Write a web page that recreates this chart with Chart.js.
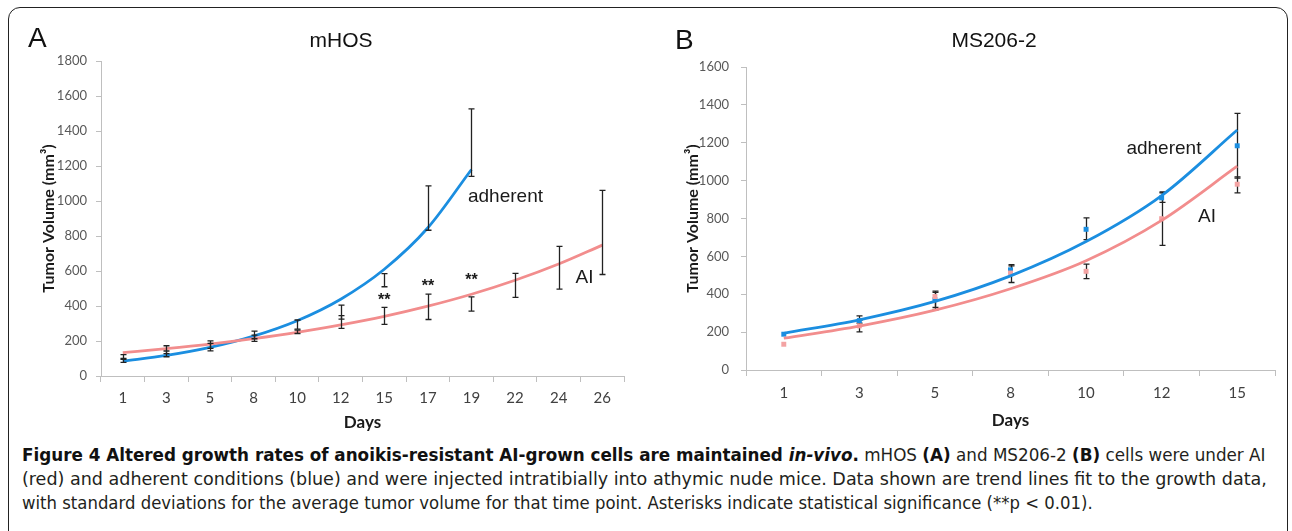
<!DOCTYPE html>
<html><head><meta charset="utf-8">
<script src="https://cdn.jsdelivr.net/npm/chart.js@4.4.1/dist/chart.umd.min.js"></script>
<style>
html,body{margin:0;padding:0;background:#fff;}
#wrap{position:relative;width:1292px;height:531px;overflow:hidden;background:#fff;}
#frame{position:absolute;left:8px;top:7px;width:1280px;height:540px;border:1.6px solid #222;border-radius:12px;box-sizing:border-box;}
.cv{position:absolute;top:0;}
.lbl{position:absolute;font-family:"Liberation Sans",Arial,sans-serif;color:#111;white-space:nowrap;line-height:1;}
.cap{position:absolute;left:22px;font-family:"Liberation Sans Narrow","DejaVu Sans Condensed","Liberation Sans",sans-serif;font-size:18px;color:#231f20;white-space:nowrap;transform-origin:0 50%;line-height:20px;}
.cap b{color:#111;}
</style>
</head><body>
<div id="wrap">
  <div id="frame"></div>
  <div class="cv" style="left:0;width:650px;height:440px;"><canvas id="cA" width="650" height="440"></canvas></div>
  <div class="cv" style="left:650px;width:642px;height:440px;"><canvas id="cB" width="642" height="440"></canvas></div>
  <div class="lbl" style="left:28px;top:24px;font-size:28px;">A</div>
  <div class="lbl" style="left:241px;width:200px;text-align:center;top:29px;font-size:21px;">mHOS</div>
  <div class="lbl" style="left:675px;top:26px;font-size:28px;">B</div>
  <div class="lbl" style="left:894px;width:200px;text-align:center;top:29px;font-size:21px;">MS206-2</div>
  <div class="cap" id="l1" data-w="1243" style="top:445px;"><b>Figure 4 Altered growth rates of anoikis-resistant AI-grown cells are maintained <i>in-vivo</i>.</b> mHOS <b>(A)</b> and MS206-2 <b>(B)</b> cells were under AI</div>
  <div class="cap" id="l2" data-w="1245" style="top:469px;">(red) and adherent conditions (blue) and were injected intratibially into athymic nude mice. Data shown are trend lines fit to the growth data,</div>
  <div class="cap" id="l3" data-w="1071" style="top:493px;">with standard deviations for the average tumor volume for that time point. Asterisks indicate statistical significance (**p &lt; 0.01).</div>
</div>
<script>
// ---------- Panel A (mHOS) ----------
const daysA = ['1','3','5','8','10','12','15','17','19','22','24','26'];
const adherentTrendA = [85,118,164,228,316,439,610,847,1180,null,null,null];
const aiTrendA = [133,156,182,213,249,292,341,399,467,547,640,748];
const adherentLowA  = [78,110,144,198,268,325,510,833,1141,null,null,null];
const adherentHighA = [100,143,186,234,320,405,585,1086,1527,null,null,null];
const aiLowA  = [95,128,158,213,243,272,295,323,371,449,496,580];
const aiHighA = [122,173,201,257,262,345,392,468,452,586,741,1061];
const yTicksA = {min:0, max:1800, step:200};

// ---------- Panel B (MS206-2) ----------
const daysB = ['1','3','5','8','10','12','15'];
const adherentTrendB = [194,265,362,497,678,921,1267];
const aiTrendB = [168,232,316,429,577,790,1076];
const adherentMeanB = [189,261,371,529,743,909,1184];
const aiMeanB = [136,233,388,512,521,799,981];
const adherentLowB  = [null,248,330,505,688,885,1013];
const adherentHighB = [null,286,410,556,803,935,1355];
const aiLowB  = [null,201,318,462,482,658,935];
const aiHighB = [null,262,416,550,559,940,1020];
const yTicksB = {min:0, max:1600, step:200};

const BLUE = '#1b8ee0';
const RED = '#f28d8d';
const REDPT = '#f3a3a3';

const errorBars = {
  id:'errorBars',
  draw(chart, opts){
    const {ctx, scales:{x,y}} = chart;
    ctx.save();
    ctx.strokeStyle = opts.color || '#222';
    ctx.lineWidth = opts.width || 1.2;
    const cap = opts.cap || 3;
    (opts.sets||[]).forEach(set=>{
      set.low.forEach((lo,i)=>{
        const hi = set.high[i];
        if(lo==null||hi==null) return;
        const px = Math.round(x.getPixelForValue(i))+0.5;
        const p1 = y.getPixelForValue(lo), p2 = y.getPixelForValue(hi);
        ctx.beginPath();
        ctx.moveTo(px,p1); ctx.lineTo(px,p2);
        ctx.moveTo(px-cap,p1); ctx.lineTo(px+cap,p1);
        ctx.moveTo(px-cap,p2); ctx.lineTo(px+cap,p2);
        ctx.stroke();
      });
    });
    ctx.restore();
  },
  beforeDatasetsDraw(chart,args,opts){ if(opts.under) this.draw(chart,opts); },
  afterDatasetsDraw(chart,args,opts){ if(!opts.under) this.draw(chart,opts); }
};

const notes = {
  id:'notes',
  afterDraw(chart,args,opts){
    const {ctx, scales:{x,y}} = chart;
    ctx.save();
    (opts.items||[]).forEach(it=>{
      ctx.font = it.font;
      ctx.fillStyle = it.color || '#1a1a1a';
      ctx.textAlign = it.align || 'left';
      ctx.textBaseline = 'middle';
      ctx.fillText(it.text, x.getPixelForValue(it.x), y.getPixelForValue(it.y));
    });
    ctx.restore();
  }
};

function makeChart(id, cfg){
  return new Chart(document.getElementById(id), {
    type:'line',
    data:{labels:cfg.labels, datasets:cfg.datasets},
    plugins:[errorBars, notes],
    options:{
      responsive:false, animation:false, devicePixelRatio:1,
      layout:{padding:{left:0, top:cfg.top, right:cfg.right, bottom:0}},
      plugins:{legend:{display:false}, tooltip:{enabled:false}, title:{display:false},
        errorBars:{sets:cfg.err, under:cfg.errUnder, color:'#222', width:1.3, cap:3},
        notes:{items:cfg.notes}},
      scales:{
        x:{type:'category', offset:true,
          grid:{offset:true, drawOnChartArea:false, tickLength:6, color:'#bfbfbf', lineWidth:1},
          border:{color:'#bfbfbf', width:1},
          ticks:{color:'#404040', font:{family:'Lato', size:15}, padding:cfg.xPad, maxRotation:0, autoSkip:false},
          title:{display:true, text:'Days', color:'#1a1a1a', font:{family:'Lato', size:17, weight:'bold'}, padding:{top:0,bottom:cfg.xTitlePad}},
          afterFit(s){ s.height = cfg.xH; }
        },
        y:{min:cfg.yt.min, max:cfg.yt.max,
          grid:{drawOnChartArea:false, tickLength:5, color:'#bfbfbf'},
          border:{color:'#bfbfbf', width:1},
          ticks:{stepSize:cfg.yt.step, color:'#595959', font:{family:'Lato', size:13}, padding:cfg.yPad,
            callback:(v)=>String(v)},
          title:{display:true, text:'Tumor Volume (mm³)', color:'#1a1a1a', font:{family:'Lato', size:16, weight:'bold'}, padding:{top:cfg.yTitlePad,bottom:0}},
          afterFit(s){ s.width = cfg.yW; }
        }
      }
    }
  });
}

const lineDs = (data,color)=>({data, borderColor:color, borderWidth:2.8, pointRadius:0, fill:false,
  cubicInterpolationMode:'monotone', spanGaps:false});
const ptDs = (data,color)=>({data, showLine:false, pointStyle:'rect', pointRadius:3.5,
  pointBackgroundColor:color, pointBorderColor:color, borderColor:color, borderWidth:0});

makeChart('cA', {
  labels:daysA, top:61, right:26, xH:64, yW:101, xPad:7, yPad:9, xTitlePad:7, yTitlePad:39, yt:yTicksA,
  errUnder:false,
  datasets:[lineDs(aiTrendA,RED), lineDs(adherentTrendA,BLUE)],
  err:[{low:adherentLowA, high:adherentHighA},{low:aiLowA, high:aiHighA}],
  notes:[
    {text:'adherent', x:7.92, y:1026, font:'19px "Liberation Sans", Arial'},
    {text:'AI', x:10.39, y:564, font:'19px "Liberation Sans", Arial'},
    {text:'**', x:6, y:433, align:'center', font:'bold 16px "Liberation Sans", Arial'},
    {text:'**', x:7, y:513, align:'center', font:'bold 16px "Liberation Sans", Arial'},
    {text:'**', x:8, y:544, align:'center', font:'bold 16px "Liberation Sans", Arial'}
  ]
});

makeChart('cB', {
  labels:daysB, top:67, right:17, xH:70, yW:96, xPad:8, yPad:12, xTitlePad:9, yTitlePad:33, yt:yTicksB,
  errUnder:true,
  datasets:[lineDs(aiTrendB,RED), lineDs(adherentTrendB,BLUE), ptDs(aiMeanB,REDPT), ptDs(adherentMeanB,BLUE)],
  err:[{low:adherentLowB, high:adherentHighB},{low:aiLowB, high:aiHighB}],
  notes:[
    {text:'adherent', x:5.03, y:1167, align:'center', font:'19px "Liberation Sans", Arial'},
    {text:'AI', x:5.6, y:808, align:'center', font:'19px "Liberation Sans", Arial'}
  ]
});

// fit caption lines to the reference line lengths
document.querySelectorAll('.cap').forEach(el=>{
  const w = el.scrollWidth, t = +el.dataset.w;
  if(w>0) el.style.transform = 'scaleX('+(t/w)+')';
});
</script>
</body></html>
